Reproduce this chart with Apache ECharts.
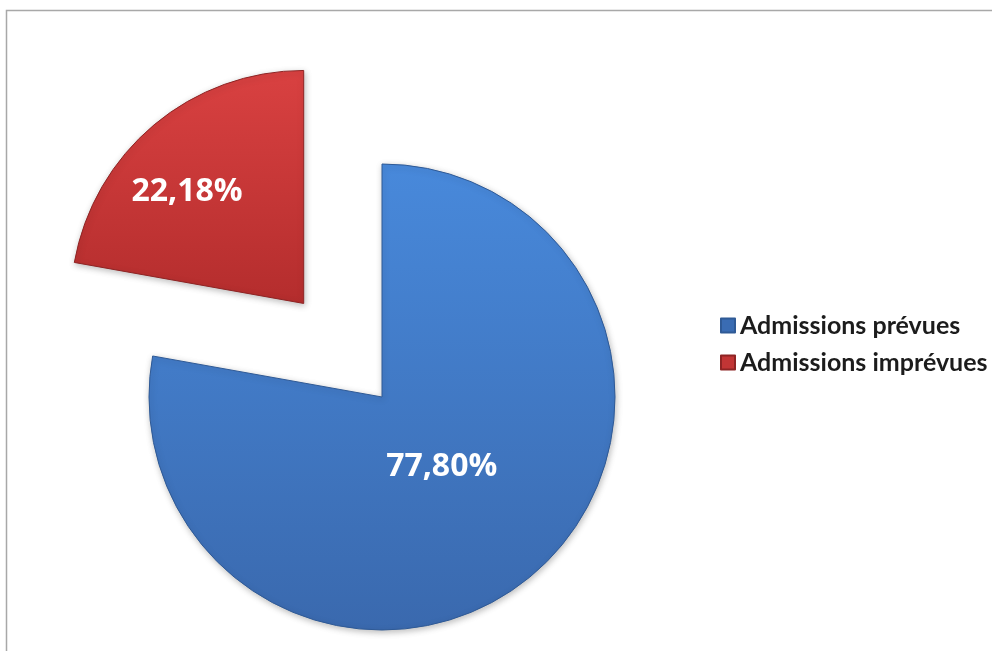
<!DOCTYPE html>
<html>
<head>
<meta charset="utf-8">
<script src="https://cdn.jsdelivr.net/npm/echarts@6/dist/echarts.min.js"></script>
<style>
html,body{margin:0;padding:0;background:#fff;}
#chart{width:992px;height:651px;}
</style>
</head>
<body>
<div id="chart"></div>
<script>
const categories = ['Admissions prévues', 'Admissions imprévues'];
const values = [77.80, 22.18];
const labels = ['77,80%', '22,18%'];

const chart = echarts.init(document.getElementById('chart'), null, {renderer: 'canvas'});

const fills = [
  {type: 'linear', x: 0, y: 0, x2: 0, y2: 1, colorStops: [{offset: 0, color: '#4889db'}, {offset: 1, color: '#3a69ae'}]},
  {type: 'linear', x: 0, y: 0, x2: 0, y2: 1, colorStops: [{offset: 0, color: '#d94141'}, {offset: 1, color: '#b42d2d'}]}
];
const legendColors = ['#3a6cb3', '#c23535'];
const labelShift = [[-17, -22], [-40, -20]];

const option = {
  backgroundColor: '#ffffff',
  animation: false,
  graphic: [{
    type: 'rect', silent: true, z: -10,
    shape: {x: 6.5, y: 10.5, width: 1000, height: 700},
    style: {fill: 'none', stroke: '#a8a8a8', lineWidth: 1.5}
  }],
  legend: {
    orient: 'vertical',
    left: 715,
    top: 308,
    itemWidth: 14,
    itemHeight: 14,
    itemGap: 12,
    icon: 'rect',
    textStyle: {fontFamily: 'Lato', fontWeight: 'bold', fontSize: 25, color: '#1c1c1c', padding: [0, 0, 0, 0]},
    data: categories.map((c, i) => ({name: c, itemStyle: {color: legendColors[i]}}))
  },
  series: [{
    type: 'pie',
    center: [382, 397],
    radius: [0, 233],
    startAngle: 90,
    clockwise: true,
    selectedMode: 'multiple',
    selectedOffset: 122,
    avoidLabelOverlap: false,
    emphasis: {disabled: true},
    label: {
      show: true,
      position: 'inside',
      color: '#ffffff',
      fontFamily: 'Open Sans',
      fontWeight: 'bold',
      fontSize: 32,
      formatter: p => labels[p.dataIndex]
    },
    labelLine: {show: false},
    labelLayout: p => ({dx: labelShift[p.dataIndex][0], dy: labelShift[p.dataIndex][1]}),
    data: categories.map((c, i) => ({
      name: c,
      value: values[i],
      selected: i === 1,
      itemStyle: {color: fills[i], borderColor: i === 0 ? '#2f5a96' : '#8e2424', borderWidth: 1,
        shadowBlur: 6, shadowColor: 'rgba(0,0,0,0.25)', shadowOffsetX: 1, shadowOffsetY: 2}
    }))
  }]
};
chart.setOption(option);
</script>
</body>
</html>
